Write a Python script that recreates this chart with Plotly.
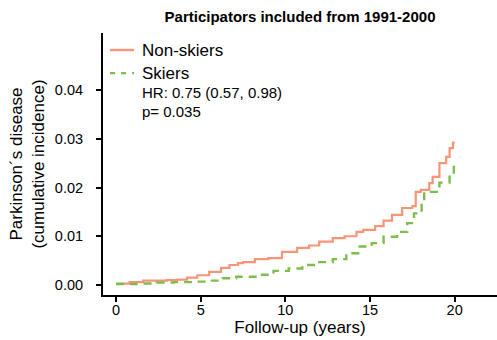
import plotly.graph_objects as go

title_text = "Participators included from 1991-2000"
series_names = ["Non-skiers", "Skiers"]

nonskier_t = [0, 0.8, 1.6, 3.0, 3.6, 4.2, 4.8, 5.5, 6.2, 6.7, 7.2, 7.5, 8.2, 9.0, 9.8, 10.7, 11.4, 12.0,
              12.8, 13.5, 14.2, 14.6, 15.3, 15.8, 16.3, 16.9, 17.5, 17.7, 18.0, 18.5, 18.7, 19.1, 19.5,
              19.7, 19.9, 20.0]
nonskier_v = [0.0003, 0.0006, 0.0009, 0.0010, 0.0011, 0.0015, 0.0020, 0.0027, 0.0035, 0.0041, 0.0045,
              0.0047, 0.0053, 0.0055, 0.0068, 0.0076, 0.0081, 0.0089, 0.0096, 0.0100, 0.0109, 0.0113,
              0.0121, 0.0132, 0.0144, 0.0158, 0.0162, 0.0191, 0.0195, 0.0209, 0.0222, 0.0250, 0.0263,
              0.0281, 0.0292, 0.0292]

skier_t = [0, 1.2, 2.4, 3.4, 4.5, 5.4, 6.3, 7.1, 8.4, 9.3, 10.2, 11.0, 11.9, 12.8, 13.6, 14.3, 15.1,
           15.8, 16.6, 17.2, 17.6, 18.05, 18.2, 18.6, 19.1, 19.7, 19.95, 20.0]
skier_v = [0.0002, 0.0003, 0.0005, 0.0006, 0.0007, 0.0009, 0.0014, 0.0017, 0.0021, 0.0029, 0.0034,
           0.0041, 0.0047, 0.0053, 0.0065, 0.0079, 0.0086, 0.0099, 0.0109, 0.0127, 0.0147, 0.0171,
           0.0191, 0.0191, 0.0210, 0.0222, 0.0251, 0.0251]

x_ticks = [0, 5, 10, 15, 20]
y_ticks = [0.00, 0.01, 0.02, 0.03, 0.04]
y_tick_labels = ["0.00", "0.01", "0.02", "0.03", "0.04"]
stats_lines = ["HR: 0.75 (0.57, 0.98)", "p= 0.035"]

FONT = "Liberation Sans, Arial, Helvetica, sans-serif"
ORANGE = "#F6957A"
GREEN = "#7BBE4B"
DASH = "8px,6px"

fig = go.Figure()
fig.add_trace(go.Scatter(x=nonskier_t, y=nonskier_v, mode="lines", line_shape="hv",
                         name=series_names[0], line=dict(color=ORANGE, width=2.2), showlegend=False))
fig.add_trace(go.Scatter(x=skier_t, y=skier_v, mode="lines", line_shape="hv",
                         name=series_names[1], line=dict(color=GREEN, width=2.4, dash=DASH),
                         showlegend=False))

# legend drawn as keys + labels (paper coordinates)
legend_rows = [(0.935, ORANGE, "solid", series_names[0]), (0.847, GREEN, "5px,6px", series_names[1])]
for ypos, col, dash, label in legend_rows:
    fig.add_shape(type="line", xref="paper", yref="paper", x0=0.018, x1=0.079, y0=ypos, y1=ypos,
                  line=dict(color=col, width=2.4, dash=dash))
    fig.add_annotation(x=0.094, y=ypos, xref="paper", yref="paper", xanchor="left", yanchor="middle",
                       text=label, showarrow=False, font=dict(family=FONT, size=17, color="black"))

for ypos, txt in zip([0.771, 0.702], stats_lines):
    fig.add_annotation(x=0.094, y=ypos, xref="paper", yref="paper", xanchor="left", yanchor="middle",
                       text=txt, showarrow=False, font=dict(family=FONT, size=15, color="black"))

fig.update_layout(
    width=497, height=340,
    margin=dict(l=103, r=0, t=33, b=45),
    plot_bgcolor="white", paper_bgcolor="white",
    font=dict(family=FONT, color="black"),
    title=dict(text="<b>" + title_text + "</b>", x=0.5, xref="paper", xanchor="center",
               y=1 - 17 / 340, yanchor="middle", font=dict(family=FONT, size=15, color="black")),
    showlegend=False,
    xaxis=dict(range=[-0.77, 22.5], tickvals=x_ticks, ticks="outside", ticklen=5, tickwidth=2,
               tickcolor="black", showline=True, linecolor="black", linewidth=2, showgrid=False,
               zeroline=False, tickfont=dict(family=FONT, size=14.5, color="black"),
               ticklabelstandoff=-4,
               title=dict(text="Follow-up (years)", font=dict(family=FONT, size=17, color="black"),
                          standoff=2)),
    yaxis=dict(range=[-0.00205, 0.0517], tickvals=y_ticks, ticktext=y_tick_labels, ticks="outside",
               ticklen=5, tickwidth=2, tickcolor="black", showline=True, linecolor="black", linewidth=2,
               showgrid=False, zeroline=False, tickfont=dict(family=FONT, size=14.5, color="black"),
               ticklabelstandoff=10,
               title=dict(text="Parkinson´s disease<br>(cumulative incidence)",
                          font=dict(family=FONT, size=17, color="black"), standoff=6)),
)

fig.write_html("out.html")
